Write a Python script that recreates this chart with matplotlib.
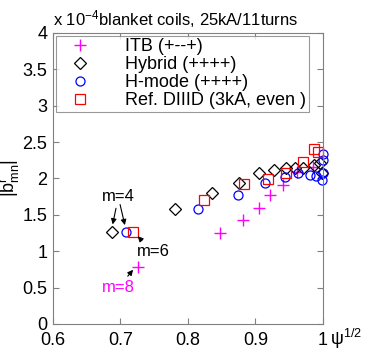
import matplotlib
matplotlib.use("Agg")
import matplotlib.pyplot as plt

plt.rcParams['font.family'] = ['Liberation Sans', 'DejaVu Sans']
plt.rcParams['mathtext.default'] = 'regular'

itb_x = [0.726, 0.847, 0.881, 0.905, 0.922, 0.940, 0.961, 0.985]
itb_y = [0.78, 1.25, 1.43, 1.60, 1.77, 1.91, 2.09, 2.16]

hyb_x = [0.688, 0.781, 0.836, 0.875, 0.905, 0.928, 0.945, 0.958, 0.971, 0.986, 0.996, 0.999]
hyb_y = [1.27, 1.58, 1.80, 1.94, 2.07, 2.12, 2.15, 2.14, 2.14, 2.19, 2.21, 2.08]

hm_x = [0.708, 0.815, 0.874, 0.914, 0.944, 0.963, 0.981, 0.990, 0.998, 0.9995, 0.9995, 0.9995]
hm_y = [1.27, 1.58, 1.77, 1.94, 2.02, 2.08, 2.05, 2.03, 1.98, 2.08, 2.25, 2.34]

ref_x = [0.719, 0.823, 0.883, 0.918, 0.945, 0.970, 0.987, 0.993]
ref_y = [1.27, 1.71, 1.92, 1.99, 2.07, 2.23, 2.40, 2.36]

xticks = [0.6, 0.7, 0.8, 0.9, 1.0]
xticklabels = ['0.6', '0.7', '0.8', '0.9', '1']
yticks = [0, 0.5, 1, 1.5, 2, 2.5, 3, 3.5, 4]
yticklabels = ['0', '0.5', '1', '1.5', '2', '2.5', '3', '3.5', '4']

fig = plt.figure(figsize=(3.65, 3.62), dpi=100)
ax = fig.add_axes([0.145, 0.105, 0.74, 0.804])

ms = 6.5
ax.plot(itb_x, itb_y, '+', color='#ff00ff', ms=8, mew=1.0, label='ITB (+--+)', clip_on=False)
ax.plot(hyb_x, hyb_y, 'D', mfc='none', mec='black', ms=6, mew=0.9, label='Hybrid (++++)', clip_on=False)
ax.plot(hm_x, hm_y, 'o', mfc='none', mec='#0000ff', ms=ms, mew=0.9, label='H-mode (++++)', clip_on=False)
ax.plot(ref_x, ref_y, 's', mfc='none', mec='#ff0000', ms=ms, mew=0.9, label='Ref. DIIID (3kA, even )', clip_on=False)

ax.set_xlim(0.6, 1.0)
ax.set_ylim(0, 4)
ax.set_xticks(xticks)
ax.set_xticklabels(xticklabels)
ax.set_yticks(yticks)
ax.set_yticklabels(yticklabels)
ax.tick_params(direction='in', top=True, right=True, labelsize=13, length=4, color='#808080')
ax.tick_params(axis='x', pad=6)
ax.tick_params(axis='y', pad=4)
for s in ax.spines.values():
    s.set_color('#808080')

ax.set_ylabel(r'$|b^r_{mn}|$', fontsize=13, labelpad=0)

fig.text(0.905, 0.047, r'$\psi^{1/2}$', fontsize=13, ha='left', va='baseline')
fig.text(0.145, 0.93, r'x 10$^{-4}$blanket coils, 25kA/11turns', fontsize=12, ha='left', va='baseline')

leg = ax.legend(loc='upper left', fontsize=13, frameon=True, fancybox=False, edgecolor='#808080',
                borderpad=0.15, handletextpad=1.3, labelspacing=0.05, borderaxespad=0.15,
                handlelength=2.4)
leg.get_frame().set_linewidth(0.8)

arr = dict(arrowstyle='-|>', color='black', lw=0.8, mutation_scale=8, shrinkA=1, shrinkB=1)
ax.annotate('m=4', xy=(0.688, 1.35), xytext=(0.697, 1.75), fontsize=12, ha='center', va='center', arrowprops=arr)
ax.annotate('', xy=(0.707, 1.34), xytext=(0.699, 1.66), arrowprops=arr)
ax.annotate('m=6', xy=(0.724, 1.22), xytext=(0.748, 0.99), fontsize=12, ha='center', va='center', arrowprops=arr)
ax.annotate('m=8', xy=(0.720, 0.76), xytext=(0.697, 0.50), fontsize=12, color='#ff00ff', ha='center', va='center', arrowprops=arr)

fig.savefig('out.png', dpi=100)
